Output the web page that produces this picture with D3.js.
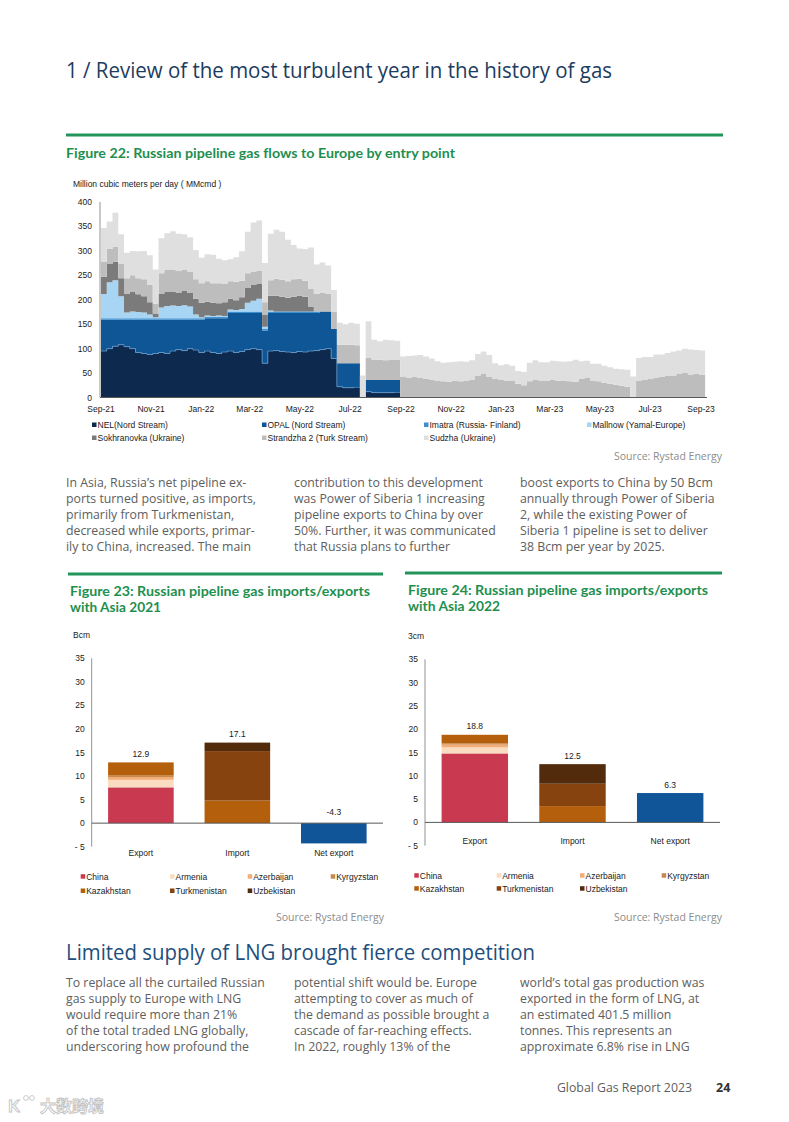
<!doctype html>
<html>
<head>
<meta charset="utf-8">
<title>Global Gas Report 2023 - p.24</title>
<script src="https://d3js.org/d3.v7.min.js"></script>
<style>
    html, body { margin: 0; background: #fff; }
    svg { display: block; }
    text { font-variant-ligatures: none; }
    .head { font-family: "Open Sans", Lato, sans-serif; font-weight: 400; }
    .body-text { font-family: "Open Sans", Lato, sans-serif; font-weight: 400; font-size: 12.3px; fill: #5e5e5e; }
    .fig-title { font-family: Lato, "Open Sans", sans-serif; font-weight: 700; font-size: 13.6px; fill: #1f8f50; }
    .ct { font-family: "Liberation Sans", Arial, sans-serif; font-size: 8.5px; fill: #1a1a1a; }
    .source { font-family: "Open Sans", Lato, sans-serif; font-weight: 400; font-size: 10.5px; fill: #8c8c8c; }
</style>
</head>
<body>
<svg id="page" width="789" height="1122"></svg>

<script>
// ---- Figure 22 : weekly flows (MMcmd), first week starts 1 Sep 2021 ----
var flowStart = new Date(2021, 8, 1);
var flowTickLabels = ["Sep-21","Nov-21","Jan-22","Mar-22","May-22","Jul-22","Sep-22",
                      "Nov-22","Jan-23","Mar-23","May-23","Jul-23","Sep-23"];
var flowYTicks = [0, 50, 100, 150, 200, 250, 300, 350, 400];
var flowNames = ["NEL(Nord Stream)", "OPAL (Nord Stream)", "Imatra (Russia- Finland)", "Mallnow  (Yamal-Europe)",
                 "Sokhranovka (Ukraine)", "Strandzha 2 (Turk Stream)", "Sudzha (Ukraine)"];
var flowColors = ["#0d2a4e", "#0f5696", "#3d8fd0", "#a9d5f4", "#7b7b7b", "#bdbdbd", "#dfdfdf"];

var nel = [95,100,105,108,104,100,92,90,88,90, 92,90,95,98,96,100,97,92,95,92,
           90,93,95,92,94,98,100,98,70,95, 96,94,93,92,94,93,95,96,98,100,
           80,22,20,20,20,0,12,10,10,10, 10,10,
           0,0,0,0,0,0,0,0,0,0, 0,0,0,0,0,0,0,0,0,0, 0,0,0,0,0,0,0,0,0,0,
           0,0,0,0,0,0,0,0,0,0, 0,0,0,0,0,0,0,0,0,0, 0,0,0];
var opal = [64,59,54,51,55,59,67,69,71,69, 67,69,64,61,63,59,62,67,67,70,
            72,69,78,81,79,75,73,75,67,78, 77,79,80,81,79,80,78,77,78,76,
            60,48,50,50,50,0,24,26,26,26, 26,26,
            0,0,0,0,0,0,0,0,0,0, 0,0,0,0,0,0,0,0,0,0, 0,0,0,0,0,0,0,0,0,0,
            0,0,0,0,0,0,0,0,0,0, 0,0,0,0,0,0,0,0,0,0, 0,0,0];
var imatra = [3,3,3,3,3,3,3,3,3,3, 3,3,3,3,3,3,3,3,3,3, 3,3,3,3,3,3,3,3,3,3,
              3,3,3,3,3,3,3,3,0,0, 0,0,0,0,0,0,0,0,0,0, 0,0,0,0,0,0,0,0,0,0,
              0,0,0,0,0,0,0,0,0,0, 0,0,0,0,0,0,0,0,0,0, 0,0,0,0,0,0,0,0,0,0,
              0,0,0,0,0,0,0,0,0,0, 0,0,0,0,0];
var mallnow = [50,74,78,45,12,14,13,12,8,2, 22,25,26,25,27,24,8,2,3,2,
               3,2,4,3,5,18,22,26,5,2,
               0,0,0,0,0,0,0,0,0,0, 0,0,0,0,0,0,0,0,0,0, 0,0,0,0,0,0,0,0,0,0,
               0,0,0,0,0,0,0,0,0,0, 0,0,0,0,0,0,0,0,0,0, 0,0,0,0,0,0,0,0,0,0,
               0,0,0,0,0,0,0,0,0,0, 0,0,0,0,0];
var sokhranovka = [35,37,38,37,38,40,36,33,25,8, 28,30,29,28,30,28,32,30,28,27,
                   25,28,22,20,24,30,32,30,25,30, 32,30,28,30,32,30,10,
                   0,0,0, 0,0,0,0,0,0,0,0,0,0, 0,0,0,0,0,0,0,0,0,0,
                   0,0,0,0,0,0,0,0,0,0, 0,0,0,0,0,0,0,0,0,0, 0,0,0,0,0,0,0,0,0,0,
                   0,0,0,0,0,0,0,0,0,0, 0,0,0,0,0];
var strandzha = [30,31,31,30,32,34,33,35,36,20, 42,44,45,44,43,44,40,40,42,40,
                 41,38,36,38,34,30,28,28,25,32, 35,35,34,36,35,33,36,36,38,36,
                 35,38,38,38,37,0,45,42,41,40, 41,42,42,40,42,40,38,36,34,33,
                 32,34,33,35,36,45,48,42,38,36, 35,34,28,25,33,36,35,34,36,34,
                 35,33,32,38,40,35,33,30,28,26, 24,22,0,35,36,38,40,42,44,45,
                 48,50,47,49,46];
var sudzha = [70,56,69,60,52,50,55,58,60,70, 72,75,78,76,72,70,60,52,55,58,
              50,48,45,50,60,85,100,102,80,95, 100,98,85,70,62,65,85,60,62,58,
              45,45,42,45,44,45,75,40,38,42, 40,38,42,45,44,47,46,44,40,38,
              40,39,41,38,40,44,46,45,32,30, 33,31,26,27,38,40,37,38,39,40,
              38,41,45,36,35,34,36,35,34,33, 34,35,43,46,47,45,48,46,47,49,
              48,50,51,48,50];

// ---- Figures 23 / 24 : Bcm ----
var barCategories = ["Export", "Import", "Net export"];
var barCountries = ["China", "Armenia", "Azerbaijan", "Kyrgyzstan", "Kazakhstan", "Turkmenistan", "Uzbekistan"];
var countryColors = ["#c93a50", "#fadcc0", "#f3ad78", "#c8894c", "#b45f0c", "#86430f", "#512b0c"];
var barYTicks = [-5, 0, 5, 10, 15, 20, 25, 30, 35];
var export2021 = [7.6, 1.6, 0.6, 0.3, 2.8, 0, 0];
var import2021 = [0, 0, 0, 0, 4.8, 10.5, 1.8];
var net2021 = -4.3;
var export2022 = [14.8, 1.3, 0.6, 0.3, 1.8, 0, 0];
var import2022 = [0, 0, 0, 0, 3.5, 4.8, 4.2];
var net2022 = 6.3;

// ---- page text ----
var para1 = [
    ["In Asia, Russia\u2019s net pipeline ex-", "ports turned positive, as imports,", "primarily from Turkmenistan,",
     "decreased while exports, primar-", "ily to China, increased. The main"],
    ["contribution to this development", "was Power of Siberia 1 increasing", "pipeline exports to China by over",
     "50%. Further, it was communicated", "that Russia plans to further"],
    ["boost exports to China by 50 Bcm", "annually through Power of Siberia", "2, while the existing Power of",
     "Siberia 1 pipeline is set to deliver", "38 Bcm per year by 2025."]
];
var para2 = [
    ["To replace all the curtailed Russian", "gas supply to Europe with LNG", "would require more than 21%",
     "of the total traded LNG globally,", "underscoring how profound the"],
    ["potential shift would be. Europe", "attempting to cover as much of", "the demand as possible brought a",
     "cascade of far-reaching effects.", "In 2022, roughly 13% of the"],
    ["world\u2019s total gas production was", "exported in the form of LNG, at", "an estimated 401.5 million",
     "tonnes. This represents an", "approximate 6.8% rise in LNG"]
];

var svg = d3.select("#page");
svg.append("rect").attr("width", 789).attr("height", 1122).attr("fill", "#fff");

// page heading
svg.append("text").attr("class", "head").attr("x", 66).attr("y", 78)
    .attr("font-size", 21).attr("fill", "#1d3c5e")
    .attr("textLength", 546).attr("lengthAdjust", "spacingAndGlyphs")
    .text("1 / Review of the most turbulent year in the history of gas");

function greenRule(x1, x2, y) {
    svg.append("line").attr("x1", x1).attr("x2", x2).attr("y1", y).attr("y2", y)
        .attr("stroke", "#23955a").attr("stroke-width", 3);
}
function source(xRight, y) {
    svg.append("text").attr("class", "source").attr("x", xRight).attr("y", y)
        .attr("text-anchor", "end").text("Source: Rystad Energy");
}
function figTitle(x, y, t, w) {
    svg.append("text").attr("class", "fig-title").attr("x", x).attr("y", y)
        .attr("textLength", w).attr("lengthAdjust", "spacingAndGlyphs").text(t);
}
function columns(cols, xs, y0) {
    cols.forEach(function(lines, c) {
        lines.forEach(function(t, i) {
            svg.append("text").attr("class", "body-text")
                .attr("x", xs[c]).attr("y", y0 + i * 16).text(t);
        });
    });
}
var fmt1 = function(v) { return d3.format(".1f")(v).replace("\u2212", "-"); };

// ================= Figure 22 =================
greenRule(66, 723, 135);
figTitle(66, 158, "Figure 22: Russian pipeline gas flows to Europe by entry point", 389);

var fx = d3.scaleTime().domain([new Date(2021, 8, 1), new Date(2023, 8, 1)]).range([101, 701]);
var fy = d3.scaleLinear().domain([0, 400]).range([397.5, 202]);

var rows = nel.map(function(_, i) {
    var r = { date: d3.timeDay.offset(flowStart, 7 * i) };
    [nel, opal, imatra, mallnow, sokhranovka, strandzha, sudzha].forEach(function(s, k) { r[k] = s[i]; });
    return r;
});
// closing row so the last weekly step gets its width
var lastRow = Object.assign({}, rows[rows.length - 1]);
lastRow.date = d3.timeDay.offset(flowStart, 7 * rows.length);
rows.push(lastRow);

var layers = d3.stack().keys(d3.range(flowNames.length))(rows);
var area = d3.area().curve(d3.curveStepAfter)
    .x(function(d) { return fx(d.data.date); })
    .y0(function(d) { return fy(d[0]); })
    .y1(function(d) { return fy(d[1]); });

var g22 = svg.append("g");
g22.selectAll("path.layer").data(layers).enter().append("path")
    .attr("class", "layer")
    .attr("d", area)
    .attr("fill", function(d, i) { return flowColors[i]; });

// thin light edge on top of NEL, like the source chart
g22.append("path")
    .attr("d", d3.line().curve(d3.curveStepAfter)
        .defined(function(d) { return d[1] > 0; })
        .x(function(d) { return fx(d.data.date); })
        .y(function(d) { return fy(d[1]); })(layers[0]))
    .attr("fill", "none").attr("stroke", "#6d9fd0").attr("stroke-width", 0.7);

// axes
g22.append("line").attr("x1", 100).attr("x2", 100).attr("y1", fy(400)).attr("y2", fy(0)).attr("stroke", "#777").attr("stroke-width", 0.8);
g22.append("line").attr("x1", 100).attr("x2", 707).attr("y1", fy(0)).attr("y2", fy(0)).attr("stroke", "#595959").attr("stroke-width", 1);

g22.selectAll("text.yt").data(flowYTicks).enter().append("text")
    .attr("class", "ct yt").attr("x", 92).attr("y", function(d) { return fy(d) + 3; })
    .attr("text-anchor", "end").text(function(d) { return d; });

var parseTick = d3.timeParse("%b-%y");
g22.selectAll("text.xt").data(flowTickLabels).enter().append("text")
    .attr("class", "ct xt").attr("x", function(d) { return fx(parseTick(d)); }).attr("y", 412)
    .attr("text-anchor", "middle").attr("font-size", 9).text(function(d) { return d; });

g22.append("text").attr("class", "ct").attr("x", 73).attr("y", 187).attr("font-size", 8)
    .text("Million cubic meters per day ( MMcmd )");

var legX = [92, 262, 424, 587], legY = [425, 438];
flowNames.forEach(function(name, i) {
    var lx = legX[i % 4], ly = legY[Math.floor(i / 4)];
    g22.append("rect").attr("x", lx).attr("y", ly - 2.5).attr("width", 4.5).attr("height", 4.5).attr("fill", flowColors[i]);
    g22.append("text").attr("class", "ct").attr("x", lx + 5.5).attr("y", ly + 3).text(name);
});
source(722, 460);

// body text 1
columns(para1, [66, 294, 520], 487);

// ================= Figures 23 / 24 =================
function drawBars(cfg) {
    var g = svg.append("g");
    var y = d3.scaleLinear().domain([-5, 35]).range([cfg.yBottom, cfg.yTop]);
    var x = d3.scaleBand().domain(barCategories).range([cfg.left, cfg.right])
        .paddingInner(0.32).paddingOuter(0.17);

    var stackRows = [cfg.exp, cfg.imp].map(function(vals, i) {
        var r = { cat: barCategories[i] };
        barCountries.forEach(function(c, k) { r[c] = vals[k]; });
        return r;
    });
    var stacked = d3.stack().keys(barCountries)(stackRows);
    stacked.forEach(function(layer, k) {
        g.selectAll(null).data(layer.filter(function(d) { return d[1] - d[0] > 0; })).enter().append("rect")
            .attr("x", function(d) { return x(d.data.cat); })
            .attr("width", x.bandwidth())
            .attr("y", function(d) { return y(d[1]); })
            .attr("height", function(d) { return y(d[0]) - y(d[1]); })
            .attr("fill", countryColors[k]);
    });
    g.append("rect").attr("x", x("Net export")).attr("width", x.bandwidth())
        .attr("y", y(Math.max(0, cfg.net))).attr("height", Math.abs(y(cfg.net) - y(0)))
        .attr("fill", "#105597");

    // total labels
    var totals = [d3.sum(cfg.exp), d3.sum(cfg.imp), cfg.net];
    g.selectAll("text.tot").data(totals).enter().append("text")
        .attr("class", "ct tot").attr("text-anchor", "middle")
        .attr("x", function(d, i) { return x(barCategories[i]) + x.bandwidth() / 2; })
        .attr("y", function(d) { return d >= 0 ? y(d) - 5.5 : y(0) - 8; })
        .text(fmt1);

    // axes
    g.append("line").attr("x1", cfg.left).attr("x2", cfg.left).attr("y1", y(35)).attr("y2", y(-5)).attr("stroke", "#777").attr("stroke-width", 0.8);
    g.append("line").attr("x1", cfg.left).attr("x2", cfg.right).attr("y1", y(0)).attr("y2", y(0)).attr("stroke", "#595959").attr("stroke-width", 1);
    g.selectAll("text.yt").data(barYTicks).enter().append("text")
        .attr("class", "ct yt").attr("text-anchor", "end")
        .attr("x", cfg.left - 7).attr("y", function(d) { return y(d) + 3; })
        .text(function(d) { return d < 0 ? "- " + Math.abs(d) : d; });
    g.selectAll("text.xc").data(barCategories).enter().append("text")
        .attr("class", "ct xc").attr("text-anchor", "middle")
        .attr("x", function(d) { return x(d) + x.bandwidth() / 2; }).attr("y", cfg.catY)
        .text(function(d) { return d; });
    g.append("text").attr("class", "ct").attr("x", cfg.bcmX).attr("y", cfg.bcmY).attr("font-size", 8).text(cfg.bcmText);

    barCountries.forEach(function(name, i) {
        var lx = cfg.legX[i % 4], ly = cfg.legY[Math.floor(i / 4)];
        g.append("rect").attr("x", lx).attr("y", ly - 2.5).attr("width", 4.5).attr("height", 4.5).attr("fill", countryColors[i]);
        g.append("text").attr("class", "ct").attr("x", lx + 5.5).attr("y", ly + 3).text(name);
    });
}

greenRule(68, 383, 574);
figTitle(70, 596, "Figure 23: Russian pipeline gas imports/exports", 300);
figTitle(70, 612, "with Asia 2021", 91);
drawBars({ left: 91.7, right: 383, yTop: 658.3, yBottom: 846.7, exp: export2021, imp: import2021, net: net2021,
           catY: 856, bcmX: 73, bcmY: 638, bcmText: "Bcm",
           legX: [80.7, 170, 247.7, 330.7], legY: [876.7, 891] });
source(384, 921);

greenRule(405, 722, 573);
figTitle(408, 595, "Figure 24: Russian pipeline gas imports/exports", 300);
figTitle(408, 611, "with Asia 2022", 92);
drawBars({ left: 425, right: 720, yTop: 659.3, yBottom: 845.7, exp: export2022, imp: import2022, net: net2022,
           catY: 844, bcmX: 408, bcmY: 639, bcmText: "3cm",
           legX: [414.3, 496.7, 580, 661.7], legY: [875.7, 888.7] });
source(722, 921);

// section heading + body text 2
svg.append("text").attr("class", "head").attr("x", 66).attr("y", 960)
    .attr("font-size", 22).attr("fill", "#1e4f7c")
    .attr("textLength", 469).attr("lengthAdjust", "spacingAndGlyphs")
    .text("Limited supply of LNG brought fierce competition");
columns(para2, [66, 294, 520], 987);

// footer
svg.append("text").attr("class", "body-text").attr("x", 692).attr("y", 1092).attr("text-anchor", "end")
    .attr("font-size", 12).text("Global Gas Report 2023");
svg.append("text").attr("x", 716).attr("y", 1092).attr("font-family", "'Open Sans', sans-serif")
    .attr("font-weight", 700).attr("font-size", 12.5).attr("fill", "#333").text("24");

// watermark
var wm = svg.append("g").attr("fill", "#fff").attr("stroke", "#c4c4c4").attr("stroke-width", 0.9);
wm.append("text").attr("x", 8).attr("y", 1112).attr("font-family", "Lato, sans-serif").attr("font-weight", 700).attr("font-size", 17).text("K");
wm.append("circle").attr("cx", 26).attr("cy", 1098).attr("r", 2.4);
wm.append("circle").attr("cx", 32).attr("cy", 1098).attr("r", 2.4);
wm.append("text").attr("x", 40).attr("y", 1112).attr("font-family", "'Noto Sans CJK SC', sans-serif").attr("font-weight", 700).attr("font-size", 16).text("大数跨境");
</script>
</body>
</html>
